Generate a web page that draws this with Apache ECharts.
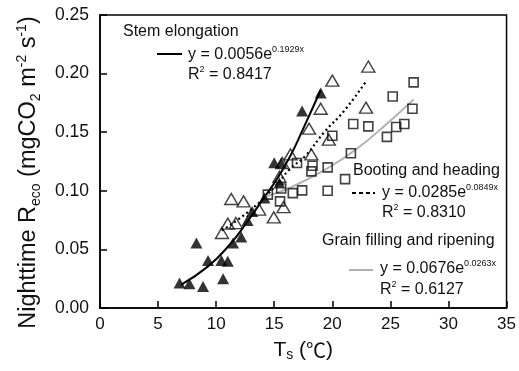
<!DOCTYPE html>
<html>
<head>
<meta charset="utf-8">
<script src="https://cdn.jsdelivr.net/npm/echarts@6/dist/echarts.min.js"></script>
<style>html,body{margin:0;padding:0;background:#fff;}#c{width:519px;height:371px;}</style>
</head>
<body>
<div id="c"></div>
<script>
// Stem elongation (filled triangles)
const stemT = [6.85, 7.7, 8.87, 8.3, 9.3, 10.45, 11.0, 10.6, 11.45, 12.16, 12.7, 13.1, 14.16, 15.45, 15.0, 15.6, 17.4, 19.0];
const stemR = [0.0213, 0.0207, 0.0184, 0.0555, 0.0406, 0.0406, 0.0398, 0.025, 0.0555, 0.0606, 0.0747, 0.0824, 0.0938, 0.1066, 0.124, 0.124, 0.168, 0.1835];
// Booting and heading (open triangles)
const bootT = [10.5, 11.0, 11.7, 11.3, 12.36, 13.7, 14.96, 15.8, 15.45, 15.7, 16.4, 18.2, 18.0, 19.0, 19.7, 20.0, 22.9, 23.1];
const bootR = [0.064, 0.072, 0.0725, 0.093, 0.091, 0.084, 0.0773, 0.086, 0.112, 0.1237, 0.131, 0.131, 0.153, 0.170, 0.1436, 0.194, 0.171, 0.206];
// Grain filling and ripening (open squares)
const grainT = [14.45, 15.5, 15.6, 16.6, 17.4, 16.96, 18.3, 18.2, 19.6, 19.6, 21.1, 21.6, 20.0, 21.8, 23.1, 24.7, 25.5, 26.2, 26.9, 25.2, 27.0];
const grainR = [0.0967, 0.091, 0.102, 0.098, 0.1004, 0.1237, 0.1214, 0.1166, 0.120, 0.100, 0.110, 0.132, 0.147, 0.157, 0.155, 0.146, 0.1545, 0.157, 0.170, 0.1805, 0.1925];
// Fitted curves
const stemFitT = [7.0, 9.3, 11.16, 12.6, 13.9, 15.3, 16.45, 17.45, 19.0];
const stemFitR = [0.020, 0.0355, 0.054, 0.0725, 0.091, 0.111, 0.131, 0.152, 0.186];
const bootFitT = [10.5, 13.0, 15.0, 16.3, 17.7, 19.3, 21.0, 22.95];
const bootFitR = [0.066, 0.084, 0.103, 0.118, 0.130, 0.150, 0.168, 0.194];
const grainFitT = [14.2, 16.3, 19.2, 22.0, 24.9, 27.0];
const grainFitR = [0.095, 0.1024, 0.117, 0.135, 0.159, 0.178];
// Axis ticks
const xTicks = [0, 5, 10, 15, 20, 25, 30, 35];
const yTicks = [0.00, 0.05, 0.10, 0.15, 0.20, 0.25];

const pairs = (a, b) => a.map((v, i) => [v, b[i]]);
const FONT = '"Liberation Sans", Arial, sans-serif';

const chart = echarts.init(document.getElementById('c'), null, {renderer: 'canvas'});

function legendText(x, y, text, rich) {
  return {type: 'text', x: x, y: y, z: 100,
    style: {text: text, fill: '#111', font: '16px ' + FONT, fontFamily: FONT, fontSize: 16,
      verticalAlign: 'middle', align: 'left', rich: rich}};
}
const eqRich = {
  a: {fontSize: 16, fontFamily: FONT, lineHeight: 20, fill: '#111'},
  s: {fontSize: 9, fontFamily: FONT, lineHeight: 8, verticalAlign: 'top', fill: '#111'}
};

const option = {
  animation: false,
  backgroundColor: '#fff',
  grid: {left: 100, right: 11.5, top: 15, bottom: 63, show: true, borderColor: '#000', borderWidth: 1.5, backgroundColor: 'transparent'},
  xAxis: {
    type: 'value', min: xTicks[0], max: xTicks[xTicks.length - 1], interval: 5,
    axisLine: {lineStyle: {color: '#000', width: 1.5}},
    axisTick: {inside: true, length: 7, lineStyle: {color: '#000', width: 1.5}},
    axisLabel: {color: '#111', fontSize: 17, fontFamily: FONT, margin: 8},
    splitLine: {show: false},
    name: '{t|T}{s|s}{t| (}{c|℃}{t|)}',
    nameLocation: 'middle', nameGap: 30,
    nameTextStyle: {rich: {
      t: {fontSize: 21, fontFamily: FONT, color: '#111', lineHeight: 24},
      s: {fontSize: 14, fontFamily: FONT, color: '#111', lineHeight: 10, verticalAlign: 'bottom'},
      c: {fontSize: 20, fontFamily: '"Noto Sans CJK SC", sans-serif', color: '#111', lineHeight: 24}
    }}
  },
  yAxis: {
    type: 'value', min: yTicks[0], max: yTicks[yTicks.length - 1], interval: 0.05,
    axisLine: {lineStyle: {color: '#000', width: 1.5}},
    axisTick: {inside: true, length: 7, lineStyle: {color: '#000', width: 1.5}},
    axisLabel: {color: '#111', fontSize: 17.5, fontFamily: FONT, margin: 11, formatter: v => v.toFixed(2)},
    splitLine: {show: false},
    name: '{t|Nighttime R}{s|eco}{t| (mgCO}{s|2}{t| m}{p|-2}{t| s}{p|-1}{t|)}',
    nameLocation: 'middle', nameGap: 57, nameRotate: 90,
    nameTextStyle: {padding: [0, 22, 0, 0], rich: {
      t: {fontSize: 23.5, fontFamily: FONT, color: '#111', lineHeight: 28},
      s: {fontSize: 14, fontFamily: FONT, color: '#111', lineHeight: 10, verticalAlign: 'bottom'},
      p: {fontSize: 14, fontFamily: FONT, color: '#111', lineHeight: 10, verticalAlign: 'top'}
    }}
  },
  series: [
    {type: 'line', data: pairs(stemFitT, stemFitR), smooth: true, symbol: 'none', z: 3,
      lineStyle: {color: '#000', width: 2}},
    {type: 'line', data: pairs(bootFitT, bootFitR), smooth: true, symbol: 'none', z: 3,
      lineStyle: {color: '#000', width: 2.2, type: [2, 3]}},
    {type: 'line', data: pairs(grainFitT, grainFitR), smooth: true, symbol: 'none', z: 3,
      lineStyle: {color: '#b0b0b0', width: 2}},
    {type: 'scatter', data: pairs(grainT, grainR), symbol: 'rect', symbolSize: 9, z: 4,
      itemStyle: {color: 'rgba(255,255,255,0)', borderColor: '#111', borderWidth: 1.6}},
    {type: 'scatter', data: pairs(bootT, bootR), symbol: 'triangle', symbolSize: [13, 11], z: 4,
      itemStyle: {color: 'rgba(255,255,255,0)', borderColor: '#111', borderWidth: 1.4}},
    {type: 'scatter', data: pairs(stemT, stemR), symbol: 'triangle', symbolSize: [12, 11], z: 5,
      itemStyle: {color: '#000'}}
  ],
  graphic: [
    legendText(123, 32, 'Stem elongation'),
    {type: 'line', shape: {x1: 157, y1: 54, x2: 182, y2: 54}, style: {stroke: '#000', lineWidth: 2}},
    legendText(188, 55, '{a|y = 0.0056e}{s|0.1929x}', eqRich),
    legendText(188, 75, '{a|R}{s|2}{a| = 0.8417}', eqRich),

    legendText(353, 171, 'Booting and heading'),
    {type: 'line', shape: {x1: 352, y1: 193, x2: 375, y2: 193}, style: {stroke: '#000', lineWidth: 2, lineDash: [4, 3]}},
    legendText(382, 193, '{a|y = 0.0285e}{s|0.0849x}', eqRich),
    legendText(382, 213, '{a|R}{s|2}{a| = 0.8310}', eqRich),

    legendText(322, 241, 'Grain filling and ripening'),
    {type: 'line', shape: {x1: 349, y1: 270, x2: 373, y2: 270}, style: {stroke: '#b0b0b0', lineWidth: 2}},
    legendText(380, 269, '{a|y = 0.0676e}{s|0.0263x}', eqRich),
    legendText(380, 290, '{a|R}{s|2}{a| = 0.6127}', eqRich)
  ]
};
chart.setOption(option);
</script>
</body>
</html>
